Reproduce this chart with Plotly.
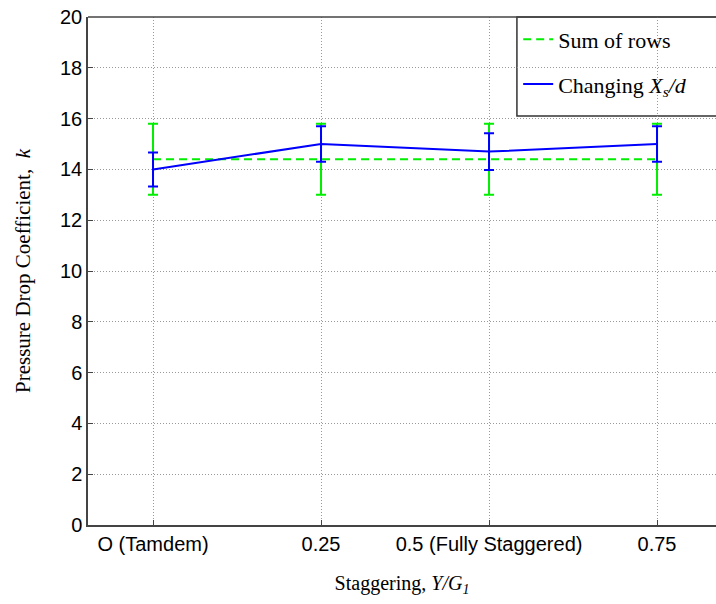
import plotly.graph_objects as go

categories = ["O (Tamdem)", "0.25", "0.5 (Fully Staggered)", "0.75"]

sum_rows = [14.4, 14.4, 14.4, 14.4]
sum_rows_err_plus = [1.4, 1.4, 1.4, 1.4]
sum_rows_err_minus = [1.4, 1.4, 1.4, 1.4]

changing = [14.0, 15.0, 14.7, 15.0]
changing_err_plus = [0.67, 0.7, 0.72, 0.7]
changing_err_minus = [0.67, 0.7, 0.72, 0.7]

y_ticks = [0, 2, 4, 6, 8, 10, 12, 14, 16, 18, 20]

GREEN = "#00ee00"
BLUE = "#0000ff"
SERIF = "Liberation Serif, Times New Roman, serif"
SANS = "Liberation Sans, Arial, sans-serif"

fig = go.Figure()
fig.add_trace(go.Scatter(
    x=categories, y=sum_rows, mode="lines", name="Sum of rows",
    line=dict(color=GREEN, width=2, dash="8px,5px"),
    error_y=dict(type="data", symmetric=False, array=sum_rows_err_plus,
                 arrayminus=sum_rows_err_minus, color=GREEN, thickness=2, width=5),
    legendgroup="a",
))
fig.add_trace(go.Scatter(
    x=categories, y=changing, mode="lines", name="Changing <i>X<sub>s</sub>/d</i>",
    line=dict(color=BLUE, width=2),
    error_y=dict(type="data", symmetric=False, array=changing_err_plus,
                 arrayminus=changing_err_minus, color=BLUE, thickness=2, width=5),
    legendgroup="b",
))

fig.update_layout(
    width=716, height=604,
    margin=dict(l=88, r=0, t=17, b=79),
    plot_bgcolor="white", paper_bgcolor="white",
    showlegend=True,
    legend=dict(
        x=0.685, y=0.997, xanchor="left", yanchor="top",
        bgcolor="rgba(0,0,0,0)", borderwidth=0,
        font=dict(family=SERIF, size=22, color="black"),
        tracegroupgap=13,
    ),
    shapes=[
        dict(type="rect", xref="paper", yref="paper",
             x0=0.683, x1=1.05, y0=0.805, y1=1.0,
             fillcolor="white", line=dict(color="#333", width=1.5), layer="between"),
        dict(type="line", xref="paper", yref="paper",
             x0=0, x1=1.05, y0=1, y1=1,
             line=dict(color="#444", width=1.5), layer="above"),
    ],
)
fig.update_xaxes(
    type="category", range=[-0.387, 3.351],
    showgrid=True, gridcolor="#999999", griddash="1px,2px", gridwidth=1,
    showline=True, linecolor="#444", linewidth=1.5, mirror=False,
    ticks="inside", ticklen=5, tickcolor="#444",
    tickfont=dict(family=SANS, size=20, color="black"),
    title=dict(text="Staggering, <i>Y/G<sub>1</sub></i>",
               font=dict(family=SERIF, size=20, color="black"), standoff=22),
)
fig.update_yaxes(
    range=[0, 20], tickvals=y_ticks,
    showgrid=True, gridcolor="#999999", griddash="1px,2px", gridwidth=1,
    zeroline=False,
    showline=True, linecolor="#444", linewidth=1.5, mirror=False,
    ticks="inside", ticklen=5, tickcolor="#444",
    tickfont=dict(family=SANS, size=20, color="black"),
    title=dict(text="Pressure Drop Coefficient,  <i>k</i>",
               font=dict(family=SERIF, size=21, color="black"), standoff=24),
)

fig.write_html("out.html")
